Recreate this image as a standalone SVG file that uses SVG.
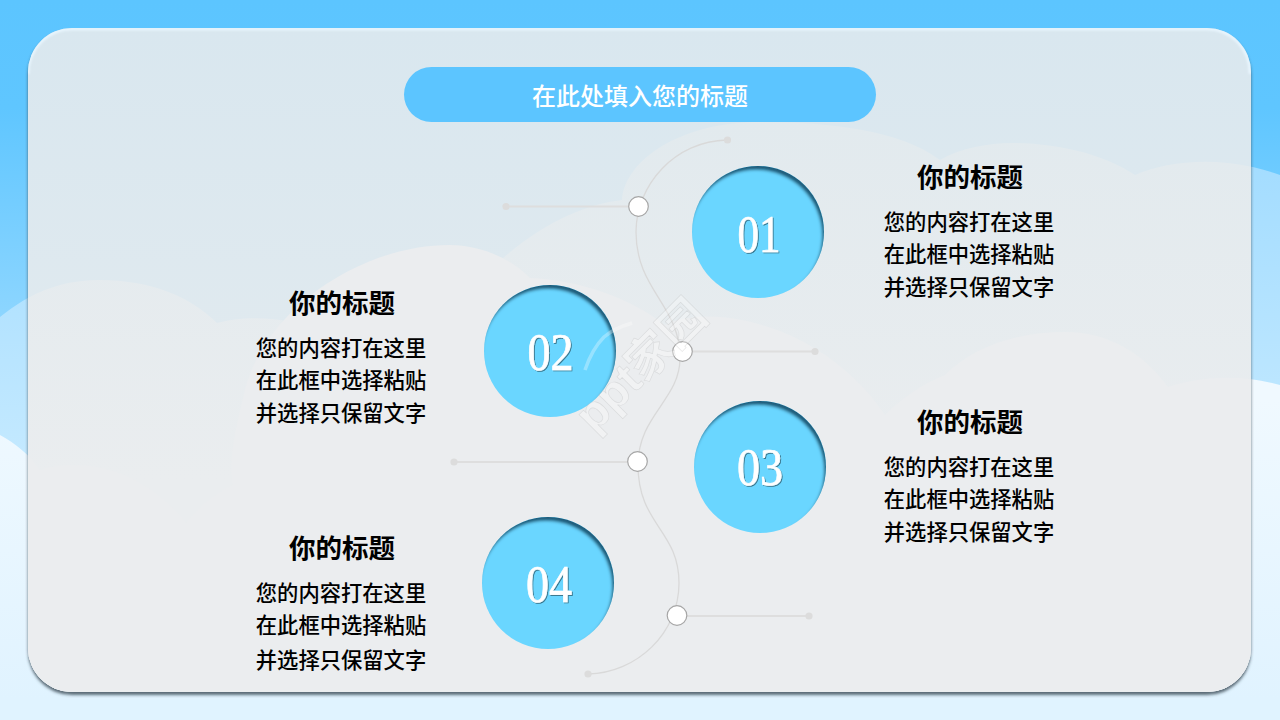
<svg xmlns="http://www.w3.org/2000/svg" width="1280" height="720" viewBox="0 0 1280 720">
<style>
.h{font-family:"Noto Sans CJK SC","Liberation Sans",sans-serif;font-size:26.5px;font-weight:700;fill:#000;text-anchor:middle}
.b{font-family:"Noto Sans CJK SC","Liberation Sans",sans-serif;font-size:21.3px;font-weight:500;fill:#000;text-anchor:middle}
.n{font-family:"Liberation Serif",serif;font-size:52px;fill:#fff;stroke:#fff;stroke-width:.7;text-anchor:middle;filter:url(#ts)}
.disc{fill:#6bd6ff;filter:url(#inner)}
.wire{fill:none;stroke:#d9d9d9;stroke-width:1.3}
.lead{stroke:#dedede;stroke-width:2}
.end{fill:#dcdcdc}
.knob{fill:#fff;stroke:#a6a6a6;stroke-width:1.2}
</style>
<defs>
<linearGradient id="sky" x1="0" y1="0" x2="0" y2="1"><stop offset="0" stop-color="#5cc5ff"/><stop offset=".15" stop-color="#5fc6ff"/><stop offset=".45" stop-color="#8ed6ff"/><stop offset="1" stop-color="#c8ebff"/></linearGradient>
<linearGradient id="fa" gradientUnits="userSpaceOnUse" x1="0" y1="150" x2="0" y2="480"><stop offset="0" stop-color="#a2dcff"/><stop offset="1" stop-color="#c6eaff"/></linearGradient>
<linearGradient id="ff" gradientUnits="userSpaceOnUse" x1="0" y1="400" x2="0" y2="700"><stop offset="0" stop-color="#f0f9ff"/><stop offset="1" stop-color="#e0f3ff"/></linearGradient>
<linearGradient id="pb" gradientUnits="userSpaceOnUse" x1="0" y1="28" x2="0" y2="400"><stop offset="0" stop-color="#d9e7ef"/><stop offset="1" stop-color="#e1eaef"/></linearGradient>
<linearGradient id="pa" gradientUnits="userSpaceOnUse" x1="0" y1="120" x2="0" y2="480"><stop offset="0" stop-color="#e2eaee"/><stop offset="1" stop-color="#eaedef"/></linearGradient>
<path id="cloudA" d="M0,317C30,293 60,280 100,280C150,280 190,296 217,323C245,315 290,316 340,335L480,280C530,228 580,205 622,200C625,160 680,122 760,122C830,122 900,130 940,160C960,148 990,143 1010,143C1060,143 1105,155 1135,175C1170,160 1225,155 1280,175V720H0Z"/>
<path id="cloudF" d="M0,435C15,443 30,455 40,470C52,466 63,465 75,465C120,465 160,490 186,523C198,508 214,494 233,485C229,470 232,440 245,390C265,310 360,245 450,245C480,245 510,258 530,278C580,280 630,298 665,325C695,310 750,315 800,340C835,358 865,385 885,415C900,400 920,385 945,375C975,345 1020,332 1065,332C1110,332 1145,355 1168,387C1205,375 1245,375 1280,385V720H0Z"/>
<filter id="inner" x="-10%" y="-10%" width="120%" height="120%">
<feOffset in="SourceAlpha" dx="-2" dy="3.5" result="o"/>
<feGaussianBlur in="o" stdDeviation="1.6" result="b"/>
<feComposite in="SourceAlpha" in2="b" operator="out" result="e"/>
<feFlood flood-color="#134f6e" flood-opacity=".95"/>
<feComposite in2="e" operator="in" result="s"/>
<feMerge><feMergeNode in="SourceGraphic"/><feMergeNode in="s"/></feMerge>
</filter>
<filter id="ts" x="-20%" y="-20%" width="140%" height="140%"><feDropShadow dx="1" dy="1" stdDeviation=".7" flood-color="#000" flood-opacity=".45"/></filter>
<filter id="ps" x="-5%" y="-5%" width="110%" height="110%">
<feOffset in="SourceAlpha" dy="2.5" result="o"/>
<feGaussianBlur in="o" stdDeviation="1.8" result="b"/>
<feComposite in="b" in2="SourceAlpha" operator="out" result="e"/>
<feFlood flood-color="#2f3f4a" flood-opacity=".75"/>
<feComposite in2="e" operator="in"/>
</filter>
<filter id="soft"><feGaussianBlur stdDeviation=".8"/></filter>
<clipPath id="pc"><rect x="28" y="28" width="1223" height="664" rx="44"/></clipPath>
</defs>

<g id="background">
<rect width="1280" height="720" fill="url(#sky)"/>
<use href="#cloudA" fill="url(#fa)"/>
<use href="#cloudF" fill="url(#ff)"/>
</g>

<g id="panel">
<rect x="28" y="28" width="1223" height="664" rx="44" fill="#000" filter="url(#ps)"/>
<g clip-path="url(#pc)">
<rect x="28" y="28" width="1223" height="664" fill="url(#pb)"/>
<use href="#cloudA" fill="url(#pa)"/>
<use href="#cloudF" fill="#ebedef"/>
<path d="M28,74C28,48 48,29 72,29H1207C1231,29 1250,48 1250,74" fill="none" stroke="#eaf7ff" stroke-width="2.5" filter="url(#soft)"/>
</g>
</g>

<g id="title">
<rect x="404" y="67" width="472" height="55" rx="27.5" fill="#5cc5ff"/>
<text x="640" y="105" font-family="'Noto Sans CJK SC','Liberation Sans',sans-serif" font-size="24" font-weight="500" fill="#fff" text-anchor="middle">在此处填入您的标题</text>
</g>

<g id="connectors">
<path class="wire" d="M727,140C675,141 636,185 636,232C636,290 680,305 680,358C680,400 638,415 638,465C638,525 679,530 679,583C679,633 637,673 588,674"/>
<line class="lead" x1="506" y1="206.5" x2="628" y2="206.5"/>
<line class="lead" x1="693" y1="351.5" x2="815" y2="351.5"/>
<line class="lead" x1="454" y1="462" x2="628" y2="462"/>
<line class="lead" x1="687" y1="616" x2="809" y2="616"/>
<circle class="end" cx="727.5" cy="140" r="3.6"/>
<circle class="end" cx="506" cy="206.5" r="3.6"/>
<circle class="end" cx="815" cy="351.5" r="3.6"/>
<circle class="end" cx="454" cy="462" r="3.6"/>
<circle class="end" cx="809" cy="616" r="3.6"/>
<circle class="end" cx="588" cy="674" r="3.6"/>
<circle class="knob" cx="638.5" cy="206.5" r="9.8"/>
<circle class="knob" cx="682.5" cy="351.5" r="9.8"/>
<circle class="knob" cx="637.5" cy="461.5" r="9.8"/>
<circle class="knob" cx="677" cy="615.5" r="9.8"/>
</g>

<g id="node-01">
<circle class="disc" cx="758" cy="232" r="66"/>
<text class="n" x="759" y="252" textLength="43" lengthAdjust="spacingAndGlyphs">01</text>
<text class="h" x="970" y="187">你的标题</text>
<text class="b" x="969" y="229.5">您的内容打在这里</text>
<text class="b" x="969" y="262">在此框中选择粘贴</text>
<text class="b" x="969" y="295">并选择只保留文字</text>
</g>
<g id="node-02">
<circle class="disc" cx="550" cy="351" r="66"/>
<text class="n" x="550.5" y="370" textLength="46" lengthAdjust="spacingAndGlyphs">02</text>
<text class="h" x="342" y="313">你的标题</text>
<text class="b" x="341" y="355.5">您的内容打在这里</text>
<text class="b" x="341" y="388">在此框中选择粘贴</text>
<text class="b" x="341" y="421">并选择只保留文字</text>
</g>
<g id="node-03">
<circle class="disc" cx="760" cy="467" r="66"/>
<text class="n" x="760" y="485" textLength="46" lengthAdjust="spacingAndGlyphs">03</text>
<text class="h" x="970" y="432">你的标题</text>
<text class="b" x="969" y="474.5">您的内容打在这里</text>
<text class="b" x="969" y="507">在此框中选择粘贴</text>
<text class="b" x="969" y="540">并选择只保留文字</text>
</g>
<g id="node-04">
<circle class="disc" cx="548" cy="583" r="66"/>
<text class="n" x="549" y="602" textLength="46" lengthAdjust="spacingAndGlyphs">04</text>
<text class="h" x="342" y="558">你的标题</text>
<text class="b" x="341" y="600.5">您的内容打在这里</text>
<text class="b" x="341" y="633">在此框中选择粘贴</text>
<text class="b" x="341" y="667.5">并选择只保留文字</text>
</g>

<g id="watermark" opacity=".3">
<path d="M585,370C590,355 596,345 604,337C612,330 622,326 632,323" fill="none" stroke="#fff" stroke-width="3.5"/>
<text transform="translate(594,434) rotate(-45)" font-family="'Liberation Sans','Noto Sans CJK SC',sans-serif" font-size="46" font-weight="700" fill="#fff" stroke="#b5b5b5" stroke-width=".7">ppt家园</text>
</g>
</svg>
